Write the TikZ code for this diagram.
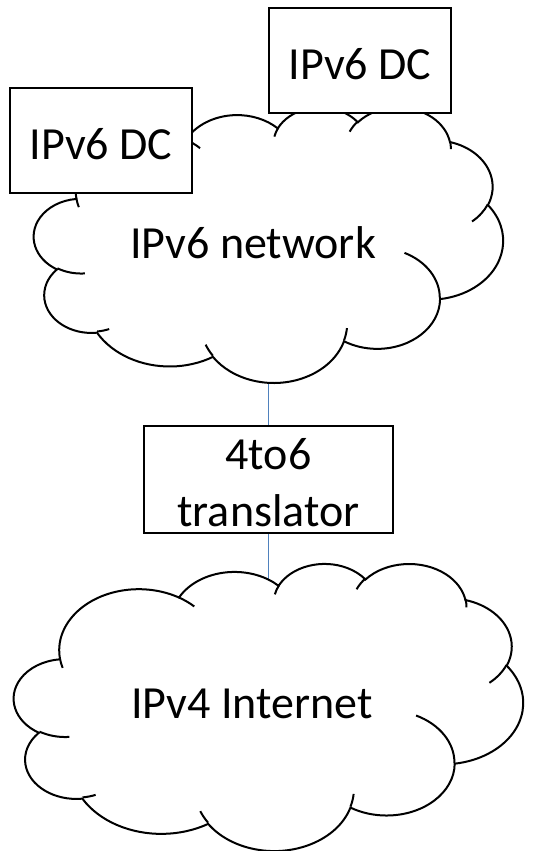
\documentclass[tikz,border=0pt]{standalone}
\usepackage{fontspec}
\setmainfont{Carlito}
\usetikzlibrary{backgrounds}

% one arc of the cloud outline: x radius, y radius, start and sweep (visual angles)
\newcommand{\cloudarc}[4]{arc[start angle={atan2((#1)*sin(#3),(#2)*cos(#3))},
  delta angle={(#4)+mod(atan2((#1)*sin((#3)+(#4)),(#2)*cos((#3)+(#4)))-atan2((#1)*sin(#3),(#2)*cos(#3))-(#4)+1260,360)-180},
  x radius=#1, y radius=#2]}

\newcommand{\cloudpath}{(39.00,143.70)
  \cloudarc{67.53}{91.90}{-190.4875}{123.7805}
  \cloudarc{53.33}{72.67}{-144.1024}{89.9452}
  \cloudarc{43.65}{59.45}{-145.8079}{99.7230}
  \cloudarc{48.57}{65.95}{-130.9861}{117.2417}
  \cloudarc{53.33}{72.73}{-78.7089}{109.0269}
  \cloudarc{67.75}{92.20}{-46.2673}{130.2690}
  \cloudarc{57.85}{78.67}{0.6250}{114.0333}
  \cloudarc{67.52}{92.15}{22.4516}{115.1726}
  \cloudarc{77.20}{105.43}{66.2426}{75.7110}
  \cloudarc{43.60}{59.18}{-274.9421}{146.7356}
  \cloudarc{43.45}{59.45}{-246.8285}{152.5189}
  -- cycle}

\newcommand{\cloudinner}{
  (46.93,261.77) \cloudarc{43.45}{59.45}{86.7420}{26.4295}
  (69.28,348.99) \cloudarc{43.60}{59.18}{73.6105}{11.4475}
  (164.78,390.90) \cloudarc{67.52}{92.15}{137.6242}{14.0811}
  (288.27,347.51) \cloudarc{67.52}{92.15}{6.4533}{15.9984}
  (341.29,229.54) \cloudarc{57.85}{78.67}{-70.2924}{70.9174}
  (417.98,153.54) \cloudarc{53.33}{72.73}{30.3180}{27.7515}
  (383.24,54.26) \cloudarc{48.57}{65.95}{-13.7443}{14.8589}
  (290.78,39.52) \cloudarc{48.57}{65.95}{-149.1815}{18.1954}
  (221.41,47.20) \cloudarc{43.65}{59.45}{-163.4943}{17.6864}
  (140.00,51.92) \cloudarc{67.53}{91.90}{-66.7070}{12.3194}
  (41.27,157.89) \cloudarc{67.53}{91.90}{157.6544}{11.8605}}

\definecolor{linkblue}{RGB}{79,129,189}

\tikzset{
  cloudline/.style={draw=black, line width=2pt},
  box/.style={draw=black, line width=2pt, fill=white, inner sep=0pt,
    font=\fontsize{46}{57}\selectfont},
  lbl/.style={inner sep=0pt, font=\fontsize{46}{57}\selectfont},
  link/.style={draw=linkblue, line width=1.2pt}
}

\begin{document}
\begin{tikzpicture}[x=1pt, y=-1pt]
  \useasboundingbox (0,0) rectangle (543,851);

  % IPv6 network cloud
  \begin{scope}[shift={(34,106.5)}, x=1.0856pt, y=-0.6377pt]
    \draw[cloudline, fill=white] \cloudpath;
    \draw[cloudline] \cloudinner;
  \end{scope}
  \node[lbl, anchor=base] (v6net) at (253,258) {IPv6 network};

  % data centres
  \node[box, minimum width=182pt, minimum height=105pt, text height=38pt, text depth=0pt]
    (dcleft) at (101,140.5) {IPv6 DC};
  \node[box, minimum width=182pt, minimum height=105pt, text height=38pt, text depth=0pt]
    (dcright) at (360,60.5) {IPv6 DC};

  % translator
  \node[box, minimum width=249pt, minimum height=107pt, align=center]
    (xlat) at (268.5,479.5) {\rule{0pt}{38pt}4to6\\translator};

  % IPv4 Internet cloud
  \begin{scope}[shift={(14,563)}, x=1.1782pt, y=-0.6644pt]
    \draw[cloudline, fill=white] \cloudpath;
    \draw[cloudline] \cloudinner;
  \end{scope}
  \node[lbl, anchor=base] (v4net) at (252,718) {IPv4 Internet};

  \begin{pgfonlayer}{background}
    \draw[link] (xlat.center |- v6net) -- (xlat.center |- v4net);
  \end{pgfonlayer}
\end{tikzpicture}
\end{document}
